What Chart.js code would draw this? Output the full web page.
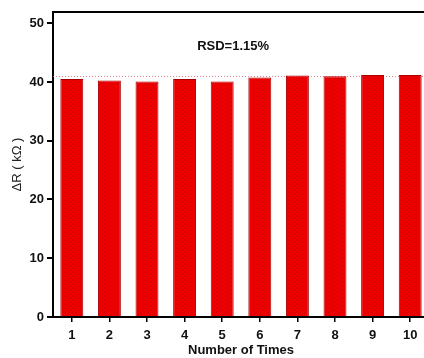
<!DOCTYPE html>
<html>
<head>
<meta charset="utf-8">
<script src="https://cdn.jsdelivr.net/npm/chart.js@4"></script>
<style>
  html, body { margin: 0; padding: 0; background: #ffffff; overflow: hidden; }
  #wrap { position: relative; width: 430px; height: 358px; }
</style>
</head>
<body>
<div id="wrap"><canvas id="c" width="430" height="358"></canvas></div>
<script>
// Resistance change measured over ten repeated cycles
const categories = ['1', '2', '3', '4', '5', '6', '7', '8', '9', '10'];
const deltaR = [40.5, 40.24, 40.07, 40.5, 40.07, 40.75, 41.08, 40.97, 41.2, 41.2];
const yTicks = [0, 10, 20, 30, 40, 50];
const referenceLevel = 41.0;
const rsdLabel = 'RSD=1.15%';

// Small cross-hatched red fill for the bars
function hatchPattern() {
  const p = document.createElement('canvas');
  p.width = 4; p.height = 4;
  const g = p.getContext('2d');
  g.fillStyle = '#f00000';
  g.fillRect(0, 0, 4, 4);
  g.fillStyle = '#d00000';
  g.fillRect(0, 0, 1, 1);
  g.fillRect(2, 2, 1, 1);
  g.fillStyle = '#e00000';
  g.fillRect(3, 1, 1, 1);
  g.fillRect(1, 3, 1, 1);
  return g.createPattern(p, 'repeat');
}

const ctx = document.getElementById('c').getContext('2d');

// Dotted reference level, top frame line and RSD note
const extras = {
  id: 'extras',
  beforeDatasetsDraw(chart) {
    const { ctx, chartArea, scales } = chart;
    const y = scales.y.getPixelForValue(referenceLevel);
    ctx.save();
    ctx.strokeStyle = 'rgba(225,110,120,0.85)';
    ctx.lineWidth = 1;
    ctx.setLineDash([1, 2]);
    ctx.beginPath();
    ctx.moveTo(chartArea.left, Math.round(y) + 0.5);
    ctx.lineTo(chartArea.right, Math.round(y) + 0.5);
    ctx.stroke();
    ctx.restore();
  },
  afterDraw(chart) {
    const { ctx, chartArea, scales } = chart;
    ctx.save();
    ctx.strokeStyle = '#000';
    ctx.lineWidth = 2;
    ctx.beginPath();
    ctx.moveTo(chartArea.left - 1, chartArea.top);
    ctx.lineTo(chartArea.right + 2, chartArea.top);
    ctx.stroke();
    ctx.fillStyle = '#111';
    ctx.font = 'bold 13px "Liberation Sans", Arial, sans-serif';
    ctx.textAlign = 'center';
    ctx.textBaseline = 'middle';
    ctx.fillText(rsdLabel, scales.x.getPixelForValue(4.29), scales.y.getPixelForValue(46));
    ctx.restore();
  }
};

new Chart(ctx, {
  type: 'bar',
  data: {
    labels: categories,
    datasets: [{
      data: deltaR,
      backgroundColor: hatchPattern(),
      borderColor: '#a80000',
      borderWidth: 1,
      categoryPercentage: 1.0,
      barPercentage: 0.61
    }]
  },
  options: {
    responsive: false,
    animation: false,
    devicePixelRatio: 1,
    layout: { padding: { top: 12, right: 1, bottom: 0, left: 0 } },
    plugins: { legend: { display: false }, tooltip: { enabled: false } },
    scales: {
      x: {
        grid: { display: true, drawOnChartArea: false, drawTicks: true, tickLength: 5, color: '#000', lineWidth: 1.5, offset: false },
        border: { display: true, color: '#000', width: 2 },
        ticks: {
          color: '#111',
          padding: 6,
          maxRotation: 0,
          font: { family: '"Liberation Sans", Arial, sans-serif', size: 13, weight: 'bold' }
        },
        title: {
          display: true,
          text: 'Number of Times',
          color: '#111',
          padding: { top: 0, bottom: 0 },
          font: { family: '"Liberation Sans", Arial, sans-serif', size: 13, weight: 'bold' }
        },
        afterFit(scale) { scale.height = 41; }
      },
      y: {
        min: 0,
        max: 51.9,
        afterBuildTicks(scale) { scale.ticks = yTicks.map(v => ({ value: v })); },
        grid: { display: true, drawOnChartArea: false, drawTicks: true, tickLength: 6, color: '#000', lineWidth: 2 },
        border: { display: true, color: '#000', width: 2 },
        ticks: {
          color: '#111',
          padding: 3,
          font: { family: '"Liberation Sans", Arial, sans-serif', size: 13, weight: 'bold' }
        },
        title: {
          display: true,
          text: 'ΔR ( kΩ )',
          color: '#222',
          padding: { top: 10, bottom: 0 },
          font: { family: '"Liberation Sans", Arial, sans-serif', size: 13, weight: 'normal' }
        },
        afterFit(scale) { scale.width = 53; }
      }
    }
  },
  plugins: [extras]
});
</script>
</body>
</html>
